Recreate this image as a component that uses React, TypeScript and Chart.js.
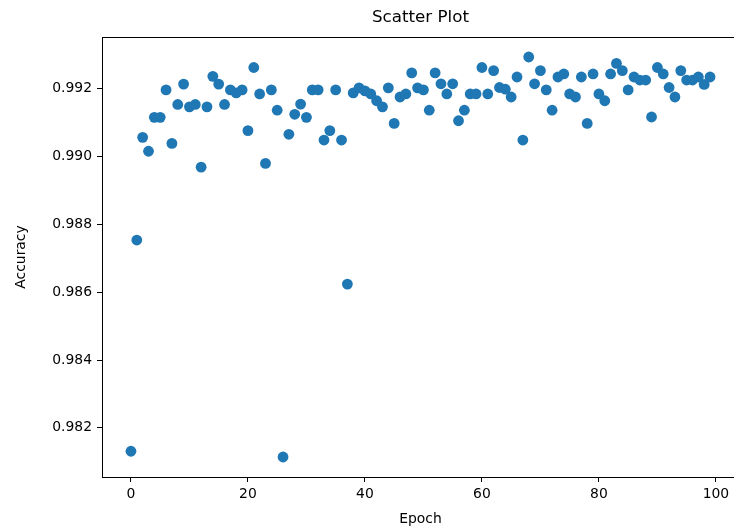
import React, { useEffect, useRef } from "react";
import { Chart, registerables } from "chart.js";

Chart.register(...registerables);

// Test accuracy recorded after each training epoch (epoch = array index)
const accuracy: number[] = [
  0.98131, 0.98754, 0.99057, 0.99016, 0.99116, 0.99116, 0.99197, 0.99039, 0.99154, 0.99214,
  0.99147, 0.99154, 0.98969, 0.99147, 0.99237, 0.99214, 0.99154, 0.99197, 0.99188, 0.99197,
  0.99077, 0.99263, 0.99185, 0.9898, 0.99197, 0.99137, 0.98114, 0.99066, 0.99125, 0.99155,
  0.99116, 0.99197, 0.99197, 0.99049, 0.99077, 0.99197, 0.99049, 0.98624, 0.99188, 0.99203,
  0.99194, 0.99185, 0.99165, 0.99147, 0.99203, 0.99098, 0.99176, 0.99185, 0.99247, 0.99203,
  0.99197, 0.99137, 0.99247, 0.99215, 0.99185, 0.99215, 0.99106, 0.99137, 0.99185, 0.99185,
  0.99263, 0.99185, 0.99254, 0.99204, 0.99199, 0.99176, 0.99235, 0.99049, 0.99294, 0.99215,
  0.99254, 0.99197, 0.99137, 0.99235, 0.99244, 0.99185, 0.99176, 0.99235, 0.99098, 0.99244,
  0.99185, 0.99165, 0.99244, 0.99275, 0.99254, 0.99197, 0.99235, 0.99226, 0.99226, 0.99117,
  0.99263, 0.99244, 0.99204, 0.99176, 0.99254, 0.99226, 0.99226, 0.99235, 0.99213, 0.99235,
];

const xTicks: number[] = [0, 20, 40, 60, 80, 100];
const yTicks: number[] = [0.982, 0.984, 0.986, 0.988, 0.99, 0.992];

const TITLE = "Scatter Plot";
const X_LABEL = "Epoch";
const Y_LABEL = "Accuracy";

const FONT = '"DejaVu Sans", sans-serif';
const BLUE = "#1f77b4";

const CANVAS_W = 745;
const CANVAS_H = 531;

// Axis range with a 5% margin around the data, as in matplotlib autoscaling
const xMinData = 0;
const xMaxData = accuracy.length - 1;
const xPad = (xMaxData - xMinData) * 0.05;
const yMinData = Math.min(...accuracy);
const yMaxData = Math.max(...accuracy);
const yPad = (yMaxData - yMinData) * 0.05;

const framePlugin = {
  id: "frameAndLabels",
  afterDraw(chart: any) {
    const { ctx, chartArea: a } = chart;
    ctx.save();
    ctx.strokeStyle = "#000";
    ctx.lineWidth = 1;
    ctx.strokeRect(
      Math.round(a.left) + 0.5,
      Math.round(a.top) + 0.5,
      Math.round(a.right - a.left),
      Math.round(a.bottom - a.top)
    );

    const cx = (a.left + a.right) / 2;
    const cy = (a.top + a.bottom) / 2;
    ctx.fillStyle = "#000";
    ctx.textAlign = "center";
    ctx.textBaseline = "middle";

    ctx.font = `16.7px ${FONT}`;
    ctx.fillText(TITLE, cx, 18);

    ctx.font = `13.9px ${FONT}`;
    ctx.fillText(X_LABEL, cx, 519);

    ctx.translate(21, cy);
    ctx.rotate(-Math.PI / 2);
    ctx.fillText(Y_LABEL, 0, 0);
    ctx.restore();
  },
};

export default function App() {
  const canvasRef = useRef<HTMLCanvasElement | null>(null);

  useEffect(() => {
    const canvas = canvasRef.current;
    if (!canvas) return;

    const tickFont = { family: FONT, size: 13.9 };

    const chart = new Chart(canvas, {
      type: "scatter",
      data: {
        datasets: [
          {
            label: Y_LABEL,
            data: accuracy.map((y, i) => ({ x: i, y })),
            backgroundColor: BLUE,
            borderColor: BLUE,
            borderWidth: 0,
            pointRadius: 5.4,
            pointHoverRadius: 5.4,
          },
        ],
      },
      options: {
        responsive: false,
        animation: false,
        devicePixelRatio: 1,
        layout: { padding: { top: 37, right: CANVAS_W - 739, left: 0, bottom: 0 } },
        plugins: {
          legend: { display: false },
          tooltip: { enabled: false },
          title: { display: false },
        },
        scales: {
          x: {
            type: "linear",
            min: xMinData - xPad,
            max: xMaxData + xPad,
            grid: {
              display: true,
              drawOnChartArea: false,
              drawTicks: true,
              tickLength: 5,
              color: "#000",
            },
            border: { display: true, color: "#000", width: 1 },
            ticks: {
              font: tickFont,
              color: "#000",
              padding: 4,
              maxRotation: 0,
              callback: (v: any) => String(v),
            },
            afterBuildTicks: (s: any) => {
              s.ticks = xTicks.map((v) => ({ value: v }));
            },
            afterFit: (s: any) => {
              s.height = CANVAS_H - 477;
            },
          },
          y: {
            type: "linear",
            min: yMinData - yPad,
            max: yMaxData + yPad,
            grid: {
              display: true,
              drawOnChartArea: false,
              drawTicks: true,
              tickLength: 5,
              color: "#000",
            },
            border: { display: true, color: "#000", width: 1 },
            ticks: {
              font: tickFont,
              color: "#000",
              padding: 5,
              callback: (v: any) => Number(v).toFixed(3),
            },
            afterBuildTicks: (s: any) => {
              s.ticks = yTicks.map((v) => ({ value: v }));
            },
            afterFit: (s: any) => {
              s.width = 102;
            },
          },
        },
      },
      plugins: [framePlugin],
    });

    return () => chart.destroy();
  }, []);

  return (
    <div
      style={{
        position: "fixed",
        left: 0,
        top: 0,
        width: 734,
        height: 531,
        overflow: "hidden",
        background: "#fff",
      }}
    >
      <canvas
        ref={canvasRef}
        width={CANVAS_W}
        height={CANVAS_H}
        style={{ display: "block", width: CANVAS_W, height: CANVAS_H }}
      />
    </div>
  );
}
